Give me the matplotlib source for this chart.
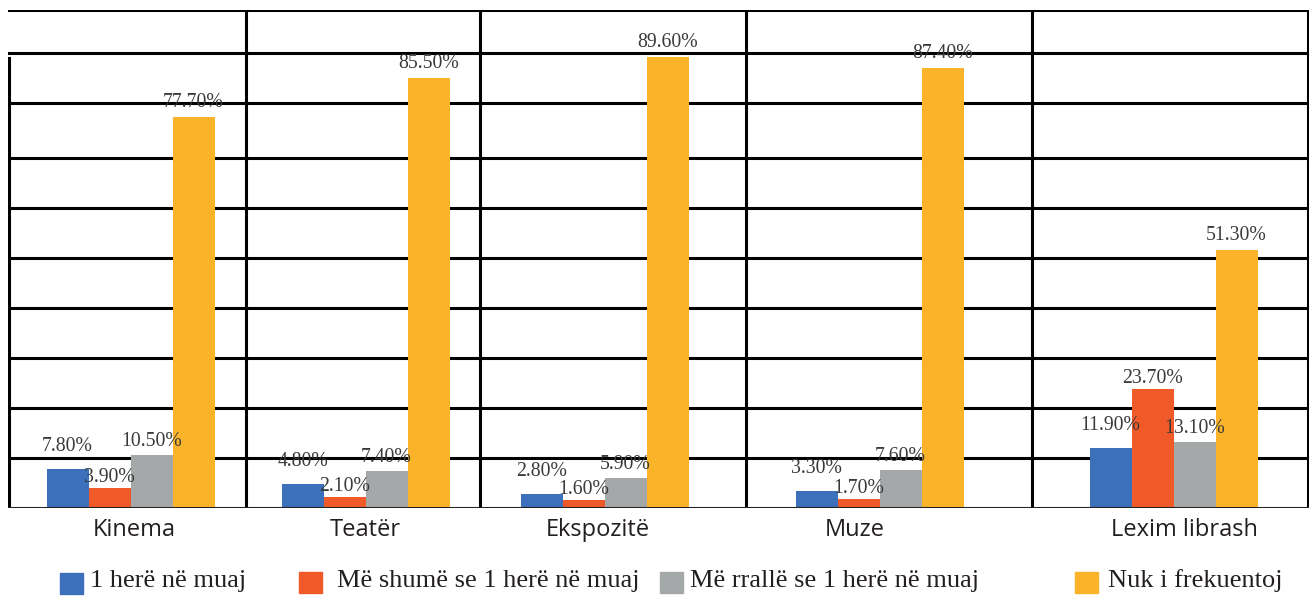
import matplotlib
matplotlib.use("Agg")
import matplotlib.pyplot as plt
from matplotlib.patches import Rectangle
import numpy as np

# ---- data ----
categories = ["Kinema", "Teatër", "Ekspozitë", "Muze", "Lexim librash"]
series_names = ["1 herë në muaj", "Më shumë se 1 herë në muaj",
                "Më rrallë se 1 herë në muaj", "Nuk i frekuentoj"]
once_month = [7.8, 4.8, 2.8, 3.3, 11.9]
more_than_once = [3.9, 2.1, 1.6, 1.7, 23.7]
less_than_once = [10.5, 7.4, 5.9, 7.6, 13.1]
never = [77.7, 85.5, 89.6, 87.4, 51.3]
series = [once_month, more_than_once, less_than_once, never]

# ---- layout / style ----
colors = ["#3C70BA", "#F05A28", "#A5A8A9", "#FBB42A"]
label_pad = [2.6, 0.2, 0.8, 1.0]          # per-series label offset (axis units)
W, H = 1312, 599
ax_top_px, ax_bot_px = 10, 508
ymax = 99
group_centers = [130.5, 365.5, 604.5, 879.5, 1173.5]   # px-like x units
label_centers = [134, 365, 598, 855, 1184]
separators = [246, 480, 746, 1032]
grid_px = [458, 408, 358, 308, 258, 208, 158, 103, 53, 10]
bar_w = 42
xmin, xmax = 8, 1309
serif = "Liberation Serif"
sans = "Open Sans"
txt_col = "#231F20"

fig = plt.figure(figsize=(W / 100, H / 100), dpi=100)
ax = fig.add_axes([xmin / W, 1 - ax_bot_px / H, (xmax - xmin) / W,
                   (ax_bot_px - ax_top_px) / H])
ax.set_xlim(xmin, xmax)
ax.set_ylim(0, ymax)
for s in ax.spines.values():
    s.set_visible(False)
ax.set_xticks([])
ax.set_yticks([])

# grid lines
span = ax_bot_px - ax_top_px
for gp in grid_px:
    ax.axhline((ax_bot_px - gp) / span * ymax, color="black", lw=2.2, zorder=1)
ax.axhline(0, color="#222222", lw=2.2, zorder=4)
for xv in separators + [xmax - 1]:
    ax.axvline(xv, color="black", lw=2.2, zorder=1)
ax.axvline(xmin + 1, ymin=0, ymax=(ax_bot_px - 58) / span, color="black",
           lw=2.2, zorder=1)

offsets = (np.arange(4) - 1.5) * bar_w
gc = np.array(group_centers)
for i, vals in enumerate(series):
    bars = ax.bar(gc + offsets[i], vals, width=bar_w, color=colors[i], zorder=3)
    for b, v in zip(bars, vals):
        ax.text(b.get_x() + b.get_width() / 2, v + label_pad[i], f"{v:.2f}%",
                ha="center", va="bottom", fontsize=14.2, family=serif,
                color="#3a3a3a", zorder=5)

# category labels
for x, c in zip(label_centers, categories):
    fig.text(x / W, 1 - 530 / H, c, ha="center", va="center",
             fontsize=17, family=sans, color=txt_col)

# legend (manual)
leg_sq = [(60, 573), (299, 572), (660, 572), (1075, 572)]
leg_tx = [90, 337, 690, 1108]
for (sx, sy), tx, col, name in zip(leg_sq, leg_tx, colors, series_names):
    fig.patches.append(Rectangle((sx / W, 1 - (sy + 21) / H), 23 / W, 21 / H,
                                 transform=fig.transFigure, color=col))
    fig.text(tx / W, 1 - 581 / H, name, ha="left", va="center",
             fontsize=19, family=serif, color=txt_col)

fig.savefig("out.png", dpi=100, facecolor="white")
